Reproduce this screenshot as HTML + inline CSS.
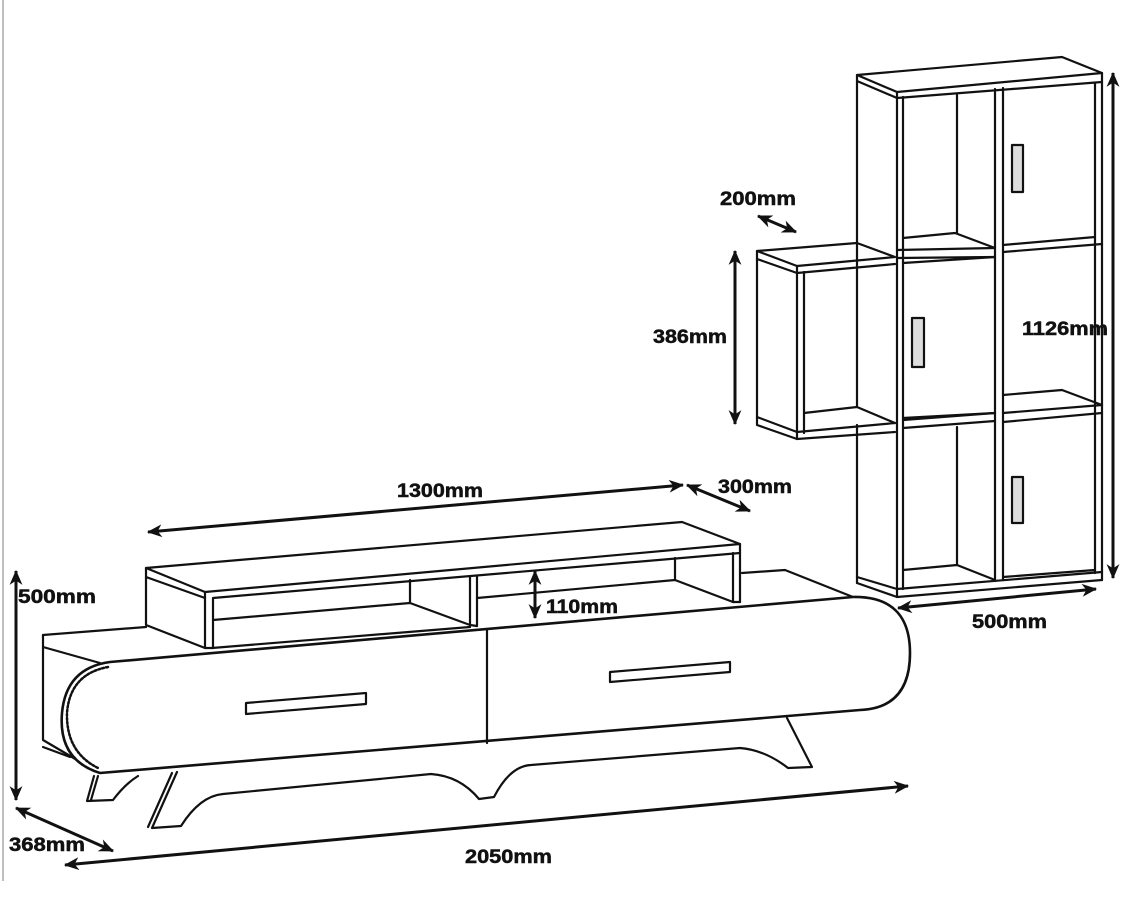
<!DOCTYPE html>
<html><head><meta charset="utf-8"><style>
html,body{margin:0;padding:0;background:#fff;}
svg{display:block;}
text{font-family:"Liberation Sans",sans-serif;font-weight:bold;font-size:19px;fill:#111;stroke:#111;stroke-width:0.5px;}
</style></head><body>
<svg width="1138" height="900" viewBox="0 0 1138 900" xmlns="http://www.w3.org/2000/svg">
<defs>
<marker id="ah" viewBox="0 0 14 12" refX="13" refY="6" markerWidth="15" markerHeight="13" markerUnits="userSpaceOnUse" orient="auto-start-reverse">
<path d="M0,0 L14,6 L0,12 L4,6 Z" fill="#111"/>
</marker>
</defs>
<line x1="3" y1="0" x2="3" y2="881" stroke="#aaa" stroke-width="1.5"/>
<g fill="none" stroke="#111" stroke-width="2.2" stroke-linejoin="round" stroke-linecap="round">
<path d="M857,75 L1062,57 L1102,73 L897,92 Z" fill="#fff"/>
<path d="M857,75 L857,81 L897,98 L1102,82 L1102,73"/>
<line x1="897" y1="92" x2="897" y2="98"/>
<line x1="857" y1="81" x2="857" y2="243"/>
<line x1="857" y1="425" x2="857" y2="583"/>
<line x1="857" y1="270" x2="857" y2="407"/>
<line x1="897" y1="98" x2="897" y2="597"/>
<line x1="903" y1="97" x2="903" y2="589"/>
<line x1="995" y1="89" x2="995" y2="581"/>
<line x1="1003" y1="88" x2="1003" y2="580"/>
<line x1="1095" y1="83" x2="1095" y2="573"/>
<line x1="1102" y1="82" x2="1102" y2="580"/>
<line x1="957" y1="95" x2="957" y2="233"/>
<line x1="957" y1="427" x2="957" y2="565"/>
<path d="M1003,245 L1095,237"/>
<path d="M1003,252 L1102,244"/>
<rect x="1012" y="145" width="11" height="47" fill="#ddd"/>
<path d="M903,238 L955,233 L995,248"/>
<path d="M897,250 L995,248"/>
<path d="M897,258 L995,257"/>
<path d="M903,263 L995,257"/>
<path d="M903,418 L995,413"/>
<rect x="912" y="318" width="12" height="49" fill="#ddd"/>
<path d="M1003,395 L1062,390 L1102,405 L1003,413"/>
<path d="M1003,422 L1102,413"/>
<path d="M903,420 L995,413"/>
<path d="M903,428 L995,421"/>
<path d="M1003,577 L1095,570"/>
<rect x="1012" y="477" width="11" height="46" fill="#ddd"/>
<path d="M903,570 L957,565 L995,580"/>
<path d="M857,577 L897,589 L1102,572"/>
<path d="M857,583 L897,597 L1102,580"/>
<path d="M757,251 L857,243 L895,257 L797,266 Z" fill="#fff"/>
<path d="M757,251 L757,425 L797,439 L895,432"/>
<path d="M757,259 L797,273 L895,264"/>
<line x1="797" y1="266" x2="797" y2="439"/>
<line x1="804" y1="272" x2="804" y2="433"/>
<path d="M757,417 L797,432 L895,423"/>
<path d="M804,413 L857,407 L895,423"/>
<line x1="857" y1="243" x2="857" y2="270"/>

<path d="M43,635 L146,627"/>
<path d="M212,648 L470,627"/>
<path d="M742,573 L785,570 L853,597"/>
<path d="M43,635 L43,740 L77,760"/>
<path d="M43,647 L100,663"/>
<path d="M43,747 L70,757"/>
<path d="M110,662 L853,597 Q910,596 910,653 Q910,708 860,710 L100,773 Q58,760 62,713 Q66,668 110,662 Z" fill="#fff" stroke-width="2.6"/>
<path d="M108,667 Q70,674 67,713 Q66,752 98,768" stroke-dasharray="2 2" stroke-width="2.5"/>
<line x1="487" y1="630" x2="487" y2="743"/>
<path d="M246,703 L366,693 L366,704 L246,714 Z"/>
<path d="M610,672 L730,662 L730,672 L610,682 Z"/>
<path d="M94,776 L87,801 L113,800 Q125,784 138,776"/>
<line x1="98" y1="776" x2="91" y2="800"/>
<path d="M177,772 L152,828 L181,826 Q200,796 223,794 L431,774 Q460,776 479,799 L494,797 Q510,766 531,765 L740,748 Q765,750 788,768 L812,767 L787,718"/>
<line x1="172" y1="773" x2="148" y2="827"/>
<path d="M146,568 L682,522 L740,544 L205,592 Z" fill="#fff"/>
<path d="M146,568 L146,625 L205,648 L213,648 L213,598 L740,553"/>
<path d="M146,577 L205,598"/>
<line x1="205" y1="592" x2="205" y2="648"/>
<line x1="740" y1="544" x2="740" y2="602"/>
<line x1="733" y1="553" x2="733" y2="602"/>
<line x1="733" y1="602" x2="740" y2="602"/>
<path d="M213,620 L410,603 L470,625"/>
<line x1="410" y1="580" x2="410" y2="603"/>
<line x1="470" y1="577" x2="470" y2="625"/>
<line x1="477" y1="576" x2="477" y2="626"/>
<line x1="470" y1="625" x2="477" y2="626"/>
<path d="M477,598 L675,580 L733,602"/>
<line x1="675" y1="558" x2="675" y2="580"/>
</g>

<g stroke="#111" stroke-width="3" fill="none" marker-start="url(#ah)" marker-end="url(#ah)">
<line x1="148" y1="532" x2="683" y2="485"/>
<line x1="687" y1="485" x2="750" y2="511"/>
<line x1="16" y1="571" x2="16" y2="800"/>
<line x1="16" y1="808" x2="113" y2="851"/>
<line x1="65" y1="865" x2="908" y2="786"/>
<line x1="535" y1="571" x2="535" y2="618"/>
<line x1="735" y1="251" x2="735" y2="424"/>
<line x1="758" y1="216" x2="796" y2="232"/>
<line x1="1113" y1="73" x2="1113" y2="578"/>
<line x1="898" y1="608" x2="1096" y2="589"/>
</g>

<text x="397" y="497" textLength="86" lengthAdjust="spacingAndGlyphs">1300mm</text>
<text x="718" y="493" textLength="74" lengthAdjust="spacingAndGlyphs">300mm</text>
<text x="18" y="603" textLength="78" lengthAdjust="spacingAndGlyphs">500mm</text>
<text x="546" y="613" textLength="72" lengthAdjust="spacingAndGlyphs">110mm</text>
<text x="9" y="851" textLength="76" lengthAdjust="spacingAndGlyphs">368mm</text>
<text x="465" y="863" textLength="87" lengthAdjust="spacingAndGlyphs">2050mm</text>
<text x="720" y="205" textLength="76" lengthAdjust="spacingAndGlyphs">200mm</text>
<text x="653" y="343" textLength="74" lengthAdjust="spacingAndGlyphs">386mm</text>
<text x="1022" y="335" textLength="86" lengthAdjust="spacingAndGlyphs">1126mm</text>
<text x="972" y="628" textLength="75" lengthAdjust="spacingAndGlyphs">500mm</text>
</svg>
</body></html>
